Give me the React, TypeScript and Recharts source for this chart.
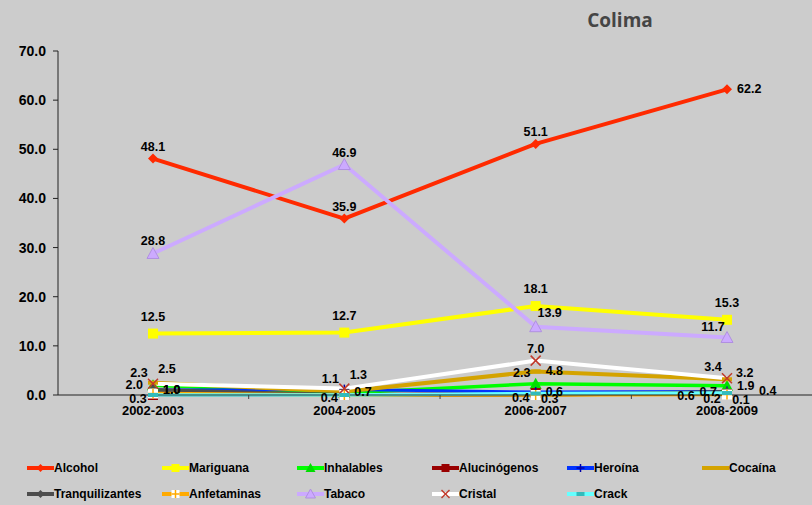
import React from 'react';
import { LineChart, Line, XAxis, YAxis, LabelList } from 'recharts';

// periodos
const periods = ['2002-2003', '2004-2005', '2006-2007', '2008-2009'];

// prevalencias por sustancia (%)
const alcohol = [48.1, 35.9, 51.1, 62.2];
const mariguana = [12.5, 12.7, 18.1, 15.3];
const inhalables = [2.0, 0.4, 2.3, 1.9];
const alucinogenos = [0, 0, 0.4, 0.2];
const heroina = [1.0, 1.1, 0.6, 0.7];
const cocaina = [2.5, 0.7, 4.8, 3.2];
const tranquilizantes = [1.0, 0, 0, 0.6];
const anfetaminas = [0.3, 0, 0, 0.1];
const tabaco = [28.8, 46.9, 13.9, 11.7];
const cristal = [2.3, 1.3, 7.0, 3.4];
const crack = [0, 0, 0.3, 0.4];

const yTicks = [0, 10, 20, 30, 40, 50, 60, 70];

const SERIES = [
  { key: 'Alcohol', values: alcohol, color: '#ff2a00', width: 4, marker: 'diamond', mcolor: '#ff2a00', labels: ['top', 'top', 'top', 'right'] },
  { key: 'Mariguana', values: mariguana, color: '#ffff00', width: 4, marker: 'square', mcolor: '#ffff00', labels: ['topHigh', 'topHigh', 'topHigh', 'topHigh'] },
  { key: 'Inhalables', values: inhalables, color: '#00ff00', width: 3.5, marker: 'triangle', mcolor: '#00dd00', labels: ['left', 'bottomLeft', 'topLeft', 'right'] },
  { key: 'Alucinógenos', values: alucinogenos, color: '#990000', width: 3.5, marker: 'square', mcolor: '#990000', labels: ['', '', 'bottomLeft', 'bottomLeft'] },
  { key: 'Heroína', values: heroina, color: '#0033ff', width: 3, marker: 'plus', mcolor: '#0000aa', labels: ['right', 'topLeft', 'right', 'left'] },
  { key: 'Cocaína', values: cocaina, color: '#d4a300', width: 4, marker: 'dash', mcolor: '#d4a300', labels: ['topRight', 'right', 'right', 'rightUp'] },
  { key: 'Tranquilizantes', values: tranquilizantes, color: '#4d4d4d', width: 4, marker: 'diamond', mcolor: '#4d4d4d', labels: ['right', '', '', 'farBottomLeft'] },
  { key: 'Anfetaminas', values: anfetaminas, color: '#ffaa00', width: 3.5, marker: 'plusBox', mcolor: '#ffffff', labels: ['bottomLeft', '', '', 'bottomRight'] },
  { key: 'Tabaco', values: tabaco, color: '#ccaaff', width: 4, marker: 'triangle', mcolor: '#ccaaff', labels: ['top', 'top', 'topRight', 'topLeft'] },
  { key: 'Cristal', values: cristal, color: '#ffffff', width: 4, marker: 'x', mcolor: '#c0392b', labels: ['topLeft', 'topRight', 'top', 'topLeft'] },
  { key: 'Crack', values: crack, color: '#66ffff', width: 3.5, marker: 'dash', mcolor: '#33bbbb', labels: ['', '', 'bottomRight', 'farRight'] },
];

const data = periods.map((p, i) => {
  const row: any = { name: p };
  SERIES.forEach((s) => (row[s.key] = s.values[i]));
  return row;
});

const LABEL_OFFSETS: any = {
  top: [0, -12, 'middle'],
  topHigh: [0, -17, 'middle'],
  topLeft: [-14, -11, 'middle'],
  topRight: [14, -14, 'middle'],
  right: [10, 0, 'start'],
  rightUp: [9, -6, 'start'],
  left: [-10, 0, 'end'],
  bottomLeft: [-15, 5, 'middle'],
  farBottomLeft: [-41, 4, 'middle'],
  bottomRight: [14, 5, 'middle'],
  bottom: [0, 10, 'middle'],
  farRight: [32, -2, 'start'],
};

const Marker = ({ kind, cx, cy, color, size = 1 }: any) => {
  const s = 5 * size;
  switch (kind) {
    case 'diamond':
      return <polygon points={`${cx},${cy - s} ${cx + s},${cy} ${cx},${cy + s} ${cx - s},${cy}`} fill={color} />;
    case 'square':
      return <rect x={cx - s} y={cy - s} width={2 * s} height={2 * s} fill={color} />;
    case 'triangle':
      return (
        <polygon
          points={`${cx},${cy - s - 1} ${cx + s + 1},${cy + s} ${cx - s - 1},${cy + s}`}
          fill={color}
          stroke="#b090e0"
          strokeWidth={color === '#ccaaff' ? 1 : 0}
        />
      );
    case 'plus':
      return (
        <g stroke={color} strokeWidth={1.5}>
          <line x1={cx - s} y1={cy} x2={cx + s} y2={cy} />
          <line x1={cx} y1={cy - s} x2={cx} y2={cy + s} />
        </g>
      );
    case 'plusBox':
      return (
        <g>
          <rect x={cx - s} y={cy - s} width={2 * s} height={2 * s} fill="#ffffff" />
          <line x1={cx - s} y1={cy} x2={cx + s} y2={cy} stroke="#ffaa00" strokeWidth={1.5} />
          <line x1={cx} y1={cy - s} x2={cx} y2={cy + s} stroke="#ffaa00" strokeWidth={1.5} />
        </g>
      );
    case 'x':
      return (
        <g stroke={color} strokeWidth={1.5}>
          <line x1={cx - s} y1={cy - s} x2={cx + s} y2={cy + s} />
          <line x1={cx - s} y1={cy + s} x2={cx + s} y2={cy - s} />
        </g>
      );
    case 'dash':
    default:
      return <rect x={cx - s} y={cy - 2} width={2 * s} height={4} fill={color} />;
  }
};

const makeLabel = (positions: string[]) => (props: any) => {
  const { x, y, value, index } = props;
  const pos = positions[index];
  if (!pos || !value) return null;
  const [dx, dy, anchor] = LABEL_OFFSETS[pos];
  return (
    <text
      x={x + dx}
      y={y + dy}
      textAnchor={anchor}
      dominantBaseline="central"
      fontSize={12.5}
      fontWeight="bold"
      fill="#000"
      fontFamily="Liberation Sans, Arial, sans-serif"
    >
      {Number(value).toFixed(1)}
    </text>
  );
};

const HALF_GAP = 95.7;

const XTick = ({ x, y, payload }: any) => (
  <g>
    <text
      x={x}
      y={y}
      dy="0.71em"
      textAnchor="middle"
      fontSize={13}
      fontWeight="bold"
      fill="#000"
      fontFamily="Liberation Sans, Arial, sans-serif"
    >
      {payload.value}
    </text>
    <line x1={x + HALF_GAP} y1={y - 11} x2={x + HALF_GAP} y2={y - 7} stroke="#404040" />
  </g>
);

const LegendBox = () => (
  <div
    style={{
      position: 'absolute',
      left: 27,
      top: 459,
      width: 812,
      display: 'grid',
      gridTemplateColumns: 'repeat(6, 135px)',
      rowGap: 8,
      fontFamily: 'Liberation Sans, Arial, sans-serif',
      fontWeight: 'bold',
      fontSize: 12,
      color: '#000',
    }}
  >
    {SERIES.map((s) => (
      <div key={s.key} style={{ display: 'flex', alignItems: 'center', height: 18 }}>
        <svg width={27} height={12} style={{ display: 'block' }}>
          <line x1={0} y1={6} x2={27} y2={6} stroke={s.color} strokeWidth={4} strokeLinecap="round" />
          <Marker kind={s.marker} cx={13.5} cy={6} color={s.mcolor} size={0.8} />
        </svg>
        <span>{s.key}</span>
      </div>
    ))}
  </div>
);

export default function App() {
  return (
    <div style={{ position: 'absolute', left: 0, top: 0, width: 812, height: 505, background: '#cccccc', overflow: 'hidden' }}>
      <div
        style={{
          position: 'absolute',
          left: 540,
          top: 7,
          width: 160,
          textAlign: 'center',
          fontFamily: 'Open Sans, sans-serif',
          fontWeight: 'bold',
          fontSize: 19,
          color: '#454545',
        }}
      >
        Colima
      </div>
      <LineChart width={812} height={505} data={data} margin={{ top: 51, right: 0, bottom: 80, left: 0 }}>
        <XAxis
          dataKey="name"
          padding={{ left: 95, right: 85 }}
          tick={<XTick />}
          tickLine={false}
          tickSize={0}
          tickMargin={11}
          axisLine={{ stroke: '#222' }}
          interval={0}
          height={30}
        />
        <YAxis
          domain={[0, 70]}
          ticks={yTicks}
          width={58}
          tickSize={5}
          tickMargin={7}
          tickLine={{ stroke: '#222' }}
          axisLine={{ stroke: '#222' }}
          tickFormatter={(v) => v.toFixed(1)}
          tick={{ fontSize: 14, fontWeight: 'bold', fill: '#000', fontFamily: 'Liberation Sans, Arial, sans-serif' }}
          interval={0}
        />
        {SERIES.map((s) => (
          <Line
            key={s.key}
            type="linear"
            dataKey={s.key}
            stroke={s.color}
            strokeWidth={s.width}
            isAnimationActive={false}
            dot={(p: any) => <Marker key={`${s.key}-${p.index}`} kind={s.marker} cx={p.cx} cy={p.cy} color={s.mcolor} />}
            activeDot={false}
          >
            <LabelList dataKey={s.key} content={makeLabel(s.labels)} />
          </Line>
        ))}
      </LineChart>
      <LegendBox />
    </div>
  );
}
